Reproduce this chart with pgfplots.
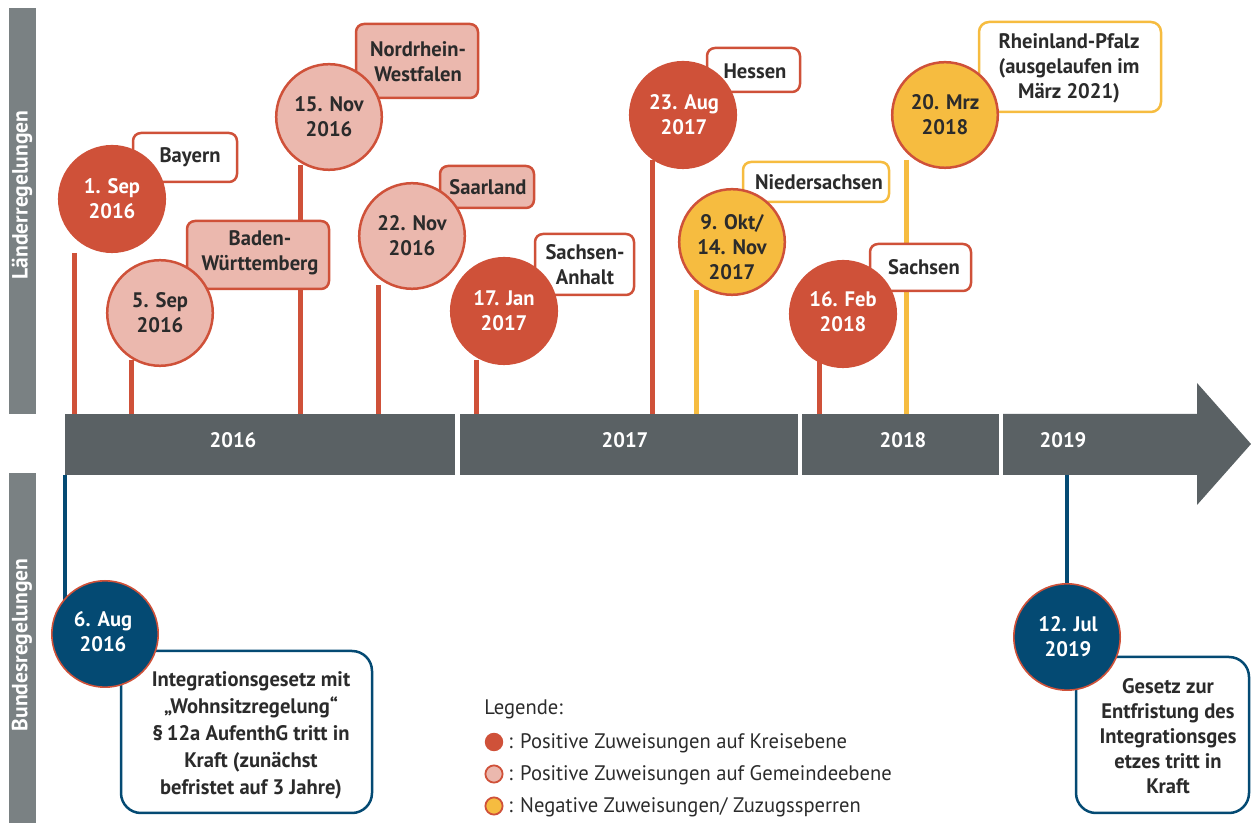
\documentclass[border=0pt]{standalone}
\usepackage{pgfplots}
\pgfplotsset{compat=1.18}
\usepackage{fontspec}
\setmainfont{PT Sans}[FakeStretch=0.98]
\definecolor{cred}{HTML}{CF5139}
\definecolor{cpink}{HTML}{EBB8AE}
\definecolor{cyel}{HTML}{F6BC40}
\definecolor{cblue}{HTML}{044A73}
\definecolor{cbar}{HTML}{5A6164}
\definecolor{cside}{HTML}{7A8183}
\definecolor{ctxt}{HTML}{2B2B2B}
\tikzset{
  tb/.style={font=\bfseries\fontsize{10.5}{12.5}\selectfont, align=center, text=ctxt, inner sep=0pt},
  tw/.style={font=\bfseries\fontsize{10.5}{12.5}\selectfont, align=center, text=white, inner sep=0pt},
}
\begin{document}
\begin{tikzpicture}
\begin{axis}[
  set layers=standard,
  scale only axis, width=625.5pt, height=411.5pt,
  xmin=0, xmax=1251, ymin=0, ymax=823, y dir=reverse,
  hide axis, clip=false,
]
% side bars
\addplot[fill=cside, draw=none] coordinates {(9,8) (36,8) (36,414) (9,414)} -- cycle;
\addplot[fill=cside, draw=none] coordinates {(9,473) (36,473) (36,823) (9,823)} -- cycle;
% timeline bar
\addplot[fill=cbar, draw=none] coordinates {(65,414) (455,414) (455,475) (65,475)} -- cycle;
\addplot[fill=cbar, draw=none] coordinates {(460,414) (798,414) (798,475) (460,475)} -- cycle;
\addplot[fill=cbar, draw=none] coordinates {(802,414) (999,414) (999,475) (802,475)} -- cycle;
\addplot[fill=cbar, draw=none] coordinates {(1003,414) (1197,414) (1197,383) (1251,444) (1197,505) (1197,475) (1003,475)} -- cycle;
% stems
\addplot[cred, line width=2.5pt] coordinates {(74,253) (74,414)};
\addplot[cred, line width=2.5pt] coordinates {(131,360) (131,414)};
\addplot[cred, line width=2.5pt] coordinates {(300,165) (300,414)};
\addplot[cred, line width=2.5pt] coordinates {(378,285) (378,414)};
\addplot[cred, line width=2.5pt] coordinates {(476,360) (476,414)};
\addplot[cred, line width=2.5pt] coordinates {(652,160) (652,414)};
\addplot[cred, line width=2.5pt] coordinates {(819,360) (819,414)};
\addplot[cyel, line width=2.5pt] coordinates {(696,290) (696,414)};
\addplot[cyel, line width=2.5pt] coordinates {(906,160) (906,414)};
\addplot[cblue, line width=2pt] coordinates {(65,475) (65,600)};
\addplot[cblue, line width=2pt] coordinates {(1067,475) (1067,600)};
% boxes
\draw[cred, line width=1.25pt, fill=white, rounded corners=4pt] (axis cs:133,133) rectangle (axis cs:237,182);
\draw[cred, line width=1.25pt, fill=cpink, rounded corners=4pt] (axis cs:187,221) rectangle (axis cs:329,289);
\draw[cred, line width=1.25pt, fill=cpink, rounded corners=4pt] (axis cs:356,24) rectangle (axis cs:478,98);
\draw[cred, line width=1.25pt, fill=cpink, rounded corners=4pt] (axis cs:440,166) rectangle (axis cs:534,208);
\draw[cred, line width=1.25pt, fill=white, rounded corners=4pt] (axis cs:535,234) rectangle (axis cs:634,295);
\draw[cred, line width=1.25pt, fill=white, rounded corners=4pt] (axis cs:707,48) rectangle (axis cs:800,92);
\draw[cyel, line width=1.25pt, fill=white, rounded corners=4pt] (axis cs:743,162) rectangle (axis cs:889,202);
\draw[cred, line width=1.25pt, fill=white, rounded corners=4pt] (axis cs:870,244) rectangle (axis cs:971,291);
\draw[cyel, line width=1.25pt, fill=white, rounded corners=5pt] (axis cs:979,22) rectangle (axis cs:1161,112);
\draw[cblue, line width=1.25pt, fill=white, rounded corners=10pt] (axis cs:121,651) rectangle (axis cs:372,813);
\draw[cblue, line width=1.25pt, fill=white, rounded corners=10pt] (axis cs:1076,657) rectangle (axis cs:1249,813);
% circles
\addplot[only marks, mark=*, mark size=26.4pt, mark options={fill=cred, draw=cred, line width=1.25pt}]
  coordinates {(112,199) (504,311) (683,115) (843,314)};
\addplot[only marks, mark=*, mark size=26.4pt, mark options={fill=cpink, draw=cred, line width=1.25pt}]
  coordinates {(160,313) (329,117) (412,236)};
\addplot[only marks, mark=*, mark size=26.4pt, mark options={fill=cyel, draw=cred, line width=1.25pt}]
  coordinates {(732,242) (945,115)};
\addplot[only marks, mark=*, mark size=26.6pt, mark options={fill=cblue, draw=cred, line width=0.8pt}]
  coordinates {(105,634) (1067,637)};
% legend markers
\addplot[only marks, mark=*, mark size=4.3pt, mark options={fill=cred, draw=cred, line width=0.6pt}] coordinates {(494,742)};
\addplot[only marks, mark=*, mark size=4.3pt, mark options={fill=cpink, draw=cred, line width=0.9pt}] coordinates {(494,774)};
\addplot[only marks, mark=*, mark size=4.3pt, mark options={fill=cyel, draw=cred, line width=0.9pt}] coordinates {(494,806)};
\begin{pgfonlayer}{axis foreground}
% side labels
\node[rotate=90, font=\bfseries\fontsize{11}{13}\selectfont, text=white] at (axis cs:22,195) {Länderregelungen};
\node[rotate=90, font=\bfseries\fontsize{11}{13}\selectfont, text=white] at (axis cs:22,645) {Bundesregelungen};
% years
\node[tw] at (axis cs:233,440) {2016};
\node[tw] at (axis cs:625,440) {2017};
\node[tw] at (axis cs:903,440) {2018};
\node[tw] at (axis cs:1063,440) {2019};
% box texts
\node[tb] at (axis cs:190,157) {Bayern};
\node[tb] at (axis cs:260,253) {Baden-\\Württemberg};
\node[tb] at (axis cs:418,62) {Nordrhein-\\Westfalen};
\node[tb] at (axis cs:488,187) {Saarland};
\node[tb] at (axis cs:585,265) {Sachsen-\\Anhalt};
\node[tb] at (axis cs:755,71) {Hessen};
\node[tb] at (axis cs:819,182) {Niedersachsen};
\node[tb] at (axis cs:924,267) {Sachsen};
\node[tb] at (axis cs:1069,68) {Rheinland-Pfalz\\(ausgelaufen im\\März 2021)};
\node[tb, font=\bfseries\fontsize{10.5}{13.5}\selectfont] at (axis cs:251,735) {Integrationsgesetz mit\\„Wohnsitzregelung“\\§\,12a AufenthG tritt in\\Kraft (zunächst\\befristet auf 3 Jahre)};
\node[tb] at (axis cs:1168,736) {Gesetz zur\\Entfristung des\\Integrationsges\\etzes tritt in\\Kraft};
% circle texts
\node[tw] at (axis cs:112,199) {1. Sep\\2016};
\node[tb] at (axis cs:160,313) {5. Sep\\2016};
\node[tb] at (axis cs:329,117) {15. Nov\\2016};
\node[tb] at (axis cs:412,236) {22. Nov\\2016};
\node[tw] at (axis cs:504,311) {17. Jan\\2017};
\node[tw] at (axis cs:684,115) {23. Aug\\2017};
\node[tb] at (axis cs:732,247) {9. Okt/\\14. Nov\\2017};
\node[tw] at (axis cs:843,312) {16. Feb\\2018};
\node[tb] at (axis cs:945,115) {20. Mrz\\2018};
\node[tw] at (axis cs:103,632) {6. Aug\\2016};
\node[tw] at (axis cs:1068,637) {12. Jul\\2019};
% legend texts
\node[anchor=west, font=\fontsize{10.5}{12.5}\selectfont, text=ctxt, inner sep=0pt] at (axis cs:484,709) {Legende:};
\node[anchor=west, font=\fontsize{10.5}{12.5}\selectfont, text=ctxt, inner sep=0pt] at (axis cs:508,743) {: Positive Zuweisungen auf Kreisebene};
\node[anchor=west, font=\fontsize{10.5}{12.5}\selectfont, text=ctxt, inner sep=0pt] at (axis cs:508,775) {: Positive Zuweisungen auf Gemeindeebene};
\node[anchor=west, font=\fontsize{10.5}{12.5}\selectfont, text=ctxt, inner sep=0pt] at (axis cs:508,807) {: Negative Zuweisungen/ Zuzugssperren};
\end{pgfonlayer}
\path (rel axis cs:0,0) rectangle (rel axis cs:1,1);
\end{axis}
\end{tikzpicture}
\end{document}
